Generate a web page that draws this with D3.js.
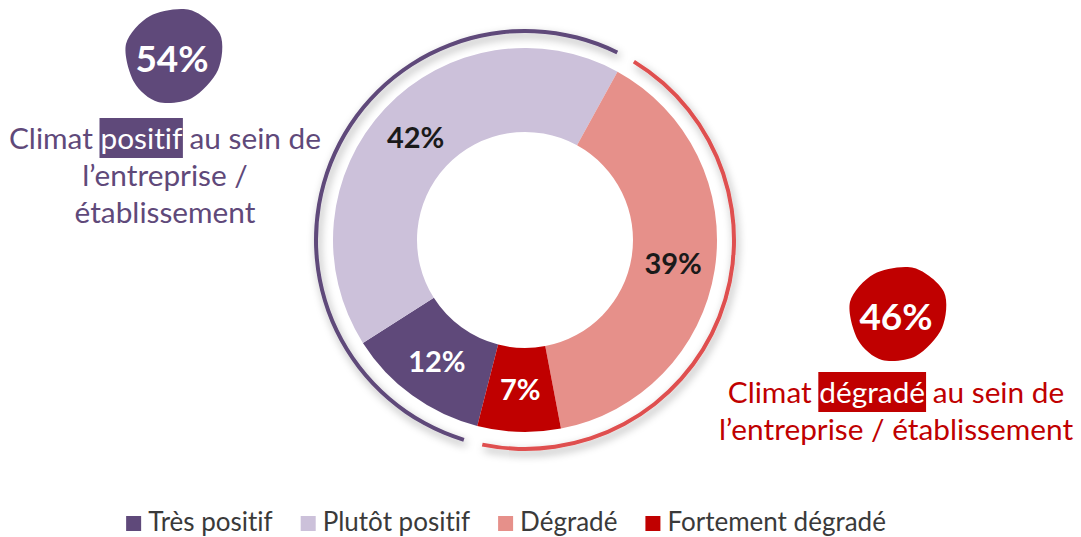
<!DOCTYPE html>
<html><head><meta charset="utf-8">
<script src="https://cdn.jsdelivr.net/npm/d3@7"></script>
<style>
html,body{margin:0;padding:0;background:#fff;}
text{font-family:Lato,"Open Sans",sans-serif;font-variant-ligatures:none;font-feature-settings:"liga" 0;}
</style></head>
<body>
<svg id="chart" width="1081" height="537"></svg>
<script>
// ---- data ----
const categories = ["Très positif", "Plutôt positif", "Dégradé", "Fortement dégradé"];
const values = [12, 42, 39, 7];
const sliceColors = ["#5f497a", "#ccc1da", "#e6908a", "#c00000"];
const sliceLabelColors = ["#ffffff", "#1a1a1a", "#1a1a1a", "#ffffff"];
const groupNames = ["positif", "dégradé"];
const groupTotals = [54, 46];
const groupMembers = [[0, 1], [2, 3]];
const groupColors = ["#5f497a", "#c00000"];
const groupArcColors = ["#5f497a", "#df4f4f"];
const groupLines = [
  [["Climat ", "positif", " au sein de"], ["l\u2019entreprise /"], ["établissement"]],
  [["Climat ", "dégradé", " au sein de"], ["l\u2019entreprise / établissement"]]
];

// ---- layout ----
const svg = d3.select("#chart");
const cx = 525, cy = 240, rOut = 192, rIn = 108;
const rot = 194.4 * Math.PI / 180;

const defs = svg.append("defs");
const f = defs.append("filter").attr("id", "sh").attr("x", "-20%").attr("y", "-20%").attr("width", "140%").attr("height", "140%");
f.append("feDropShadow").attr("dx", 2).attr("dy", 4).attr("stdDeviation", 4)
  .attr("flood-color", "#000").attr("flood-opacity", 0.35);

const pie = d3.pie().value(d => d).sort(null).startAngle(rot).endAngle(rot + 2 * Math.PI);
const arcs = pie(values);
const arcGen = d3.arc().innerRadius(rIn).outerRadius(rOut);

const g = svg.append("g").attr("transform", `translate(${cx},${cy})`);

// outer group arcs
const ringGen = d3.arc().innerRadius(207).outerRadius(211);
const pad = 2.6 * Math.PI / 180;
groupMembers.forEach((mem, i) => {
  const s = arcs[mem[0]].startAngle + pad;
  const e = arcs[mem[mem.length - 1]].endAngle - pad;
  g.append("path").attr("d", ringGen({startAngle: s, endAngle: e}))
    .attr("fill", groupArcColors[i]).attr("filter", "url(#sh)");
});

g.selectAll("path.slice").data(arcs).enter().append("path")
  .attr("class", "slice").attr("d", arcGen).attr("fill", (d, i) => sliceColors[i]);

g.selectAll("text.pct").data(arcs).enter().append("text")
  .attr("class", "pct")
  .attr("transform", d => `translate(${arcGen.centroid(d)})`)
  .attr("text-anchor", "middle").attr("dy", "0.36em")
  .attr("font-size", 29).attr("font-weight", 700)
  .attr("fill", (d, i) => sliceLabelColors[i])
  .text((d, i) => values[i] + "%");

// badges
const blob = [[18, -46], [-22, -40], [-46, -12], [-38, 26], [-14, 46], [20, 42], [46, 14], [48, -22]];
const blobLine = d3.line().curve(d3.curveCardinalClosed.tension(0.1));
const badgePos = [[172, 56], [896, 314]];
const textCenter = [165, 896];
const lineBase = [[149, 186, 223], [403, 440]];

groupTotals.forEach((t, i) => {
  const bg = svg.append("g").attr("transform", `translate(${badgePos[i]})`);
  bg.append("path").attr("d", blobLine(blob)).attr("fill", groupColors[i]);
  bg.append("text").attr("text-anchor", "middle").attr("y", 16)
    .attr("font-size", 37).attr("font-weight", 700).attr("fill", "#fff").text(t + "%");

  groupLines[i].forEach((parts, li) => {
    const tg = svg.append("g");
    const txt = tg.append("text").attr("x", textCenter[i]).attr("y", lineBase[i][li])
      .attr("text-anchor", "middle").attr("font-size", 29.8).attr("fill", groupColors[i]);
    parts.forEach((p, pi) => {
      txt.append("tspan").text(p).attr("fill", parts.length > 1 && pi === 1 ? "#fff" : groupColors[i]);
    });
    if (parts.length > 1) {
      const node = txt.node();
      const st = parts[0].length;
      const x0 = node.getStartPositionOfChar(st).x;
      const w = node.getSubStringLength(st, parts[1].length);
      tg.insert("rect", "text").attr("x", x0 - 1).attr("y", lineBase[i][li] - 31)
        .attr("width", w + 2).attr("height", 40).attr("fill", groupColors[i]);
    }
  });
});

// legend
const lg = svg.append("g");
const items = lg.selectAll("g").data(categories).enter().append("g");
items.append("rect").attr("width", 15).attr("height", 15).attr("y", -15)
  .attr("fill", (d, i) => sliceColors[i]);
items.append("text").attr("x", 22).attr("font-size", 26).attr("fill", "#3a3a3a").text(d => d);
let xx = 0;
items.each(function () {
  const w = this.querySelector("text").getComputedTextLength() + 22;
  d3.select(this).attr("transform", `translate(${xx},0)`);
  xx += w + 28;
});
const total = xx - 28;
lg.attr("transform", `translate(${506 - total / 2},531)`);
</script>
</body></html>
